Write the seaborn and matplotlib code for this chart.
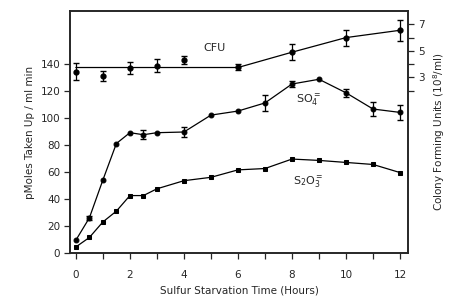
import numpy as np
import pandas as pd
import matplotlib
matplotlib.use('Agg')
import matplotlib.pyplot as plt
import seaborn as sns

# dados
t_so4 = [0, 0.5, 1, 1.5, 2, 2.5, 3, 4, 5, 6, 7, 8, 9, 10, 11, 12]
so4 = [9.5, 26, 54, 81, 89, 87.5, 89, 89.5, 102, 105, 111, 125, 128.5, 118.5, 106.5, 104]
so4_err = [0, 1.5, 0, 0, 0, 3.5, 0, 4, 0, 0, 6, 2, 0, 3, 5, 5.5]

t_s2o3 = [0, 0.5, 1, 1.5, 2, 2.5, 3, 4, 5, 6, 7, 8, 9, 10, 11, 12]
s2o3 = [4.5, 11.5, 23, 31, 42.5, 42.5, 47.5, 53.5, 56, 61.5, 62.5, 69.5, 68.5, 67, 65.5, 59.5]

t_cfu = [0, 1, 2, 3, 4, 6, 8, 10, 12]
cfu = [3.45, 3.1, 3.7, 3.9, 4.3, 3.8, 4.9, 6.0, 6.55]
cfu_err = [0.65, 0.4, 0.45, 0.5, 0.3, 0.25, 0.6, 0.6, 0.8]
# curva ajustada do CFU
t_cfu_fit = [0, 6, 8, 10, 12]
cfu_fit = [3.75, 3.75, 4.9, 6.0, 6.55]

df_so4 = pd.DataFrame({'t': t_so4, 'v': so4, 'e': so4_err})
df_s2o3 = pd.DataFrame({'t': t_s2o3, 'v': s2o3})

sns.set_style("ticks")
plt.rcParams['font.family'] = ['DejaVu Sans']
plt.rcParams['font.size'] = 7.5

fig = plt.figure(figsize=(4.54, 2.97), dpi=100)
ax = fig.add_axes([0.154, 0.148, 0.745, 0.815])

kw = dict(color='black', linewidth=0.9, markersize=3.5, markeredgecolor='black', legend=False)
sns.lineplot(data=df_so4, x='t', y='v', marker='o', ax=ax, **kw)
sns.lineplot(data=df_s2o3, x='t', y='v', marker='s', ax=ax, **kw)
m = df_so4['e'] > 0
ax.errorbar(df_so4['t'][m], df_so4['v'][m], yerr=df_so4['e'][m], fmt='none',
            ecolor='black', elinewidth=0.9, capsize=2)

ax.set_xlim(-0.22, 12.3)
ax.set_ylim(0, 179)
ax.set_xticks(range(0, 13, 2))
ax.set_xticks(range(0, 13), minor=True)
ax.set_yticks(range(0, 141, 20))
ax.tick_params(direction='out', length=4, width=0.9, labelsize=7.5, pad=3)
ax.tick_params(axis='x', which='minor', length=4, width=0.9)
ax.tick_params(axis='x', pad=8)
ax.set_xlabel('Sulfur Starvation Time (Hours)', fontsize=7.5)
ax.set_ylabel('pMoles Taken Up / ml min', fontsize=7.5)

# eixo direito (CFU)
ax2 = ax.twinx()
sns.lineplot(x=t_cfu_fit, y=cfu_fit, ax=ax2, color='black', linewidth=0.9)
ax2.errorbar(t_cfu, cfu, yerr=cfu_err, fmt='o', color='black', markersize=3.5,
             elinewidth=0.9, capsize=2)
ax2.set_ylim(-10.2, 8.0)
ax2.set_yticks([3, 5, 7])
ax2.set_yticks([2, 3, 4, 5, 6, 7], minor=True)
ax2.tick_params(direction='out', length=4, width=0.9, labelsize=7.5)
ax2.tick_params(which='minor', length=4, width=0.9)
ax2.set_ylabel('Colony Forming Units (10$^8$/ml)', fontsize=7.5)

for a in (ax, ax2):
    for s in a.spines.values():
        s.set_linewidth(1.2)
        s.set_visible(True)

ax.text(5.15, 152, 'CFU', ha='center', va='center', fontsize=8)
ax.text(8.6, 113, 'SO$_4^=$', ha='center', va='center', fontsize=8)
ax.text(8.6, 52, 'S$_2$O$_3^=$', ha='center', va='center', fontsize=8)

fig.savefig('out.png', dpi=100)
